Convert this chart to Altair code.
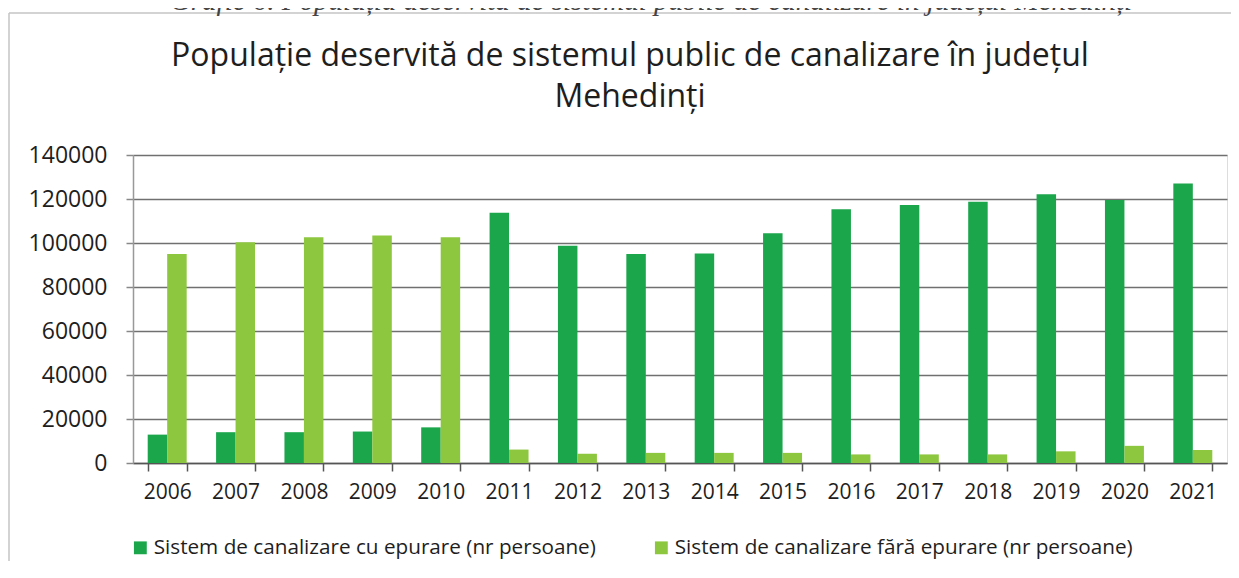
import altair as alt
import pandas as pd

years = [str(y) for y in range(2006, 2022)]
cu_epurare = [12900, 14000, 14000, 14300, 16200, 113700, 98800, 95000, 95200, 104400,
              115300, 117300, 118700, 122200, 119500, 127000]
fara_epurare = [95000, 100300, 102600, 103400, 102600, 6100, 4200, 4600, 4600, 4600,
                3900, 3900, 3900, 5300, 7800, 5900]
series_names = ["Sistem de canalizare cu epurare (nr persoane)",
                "Sistem de canalizare fără epurare (nr persoane)"]
series_colors = ["#1ba64b", "#8dc63f"]
y_ticks = [0, 20000, 40000, 60000, 80000, 100000, 120000, 140000]
title_lines = ["Populație deservită de sistemul public de canalizare în județul", "Mehedinți"]
caption = ["Grafic 6. Populația deservită de sistemul public de canalizare în județul Mehedinți"]

rows = []
for i, yr in enumerate(years):
    rows.append({"an": yr, "serie": series_names[0], "valoare": cu_epurare[i]})
    rows.append({"an": yr, "serie": series_names[1], "valoare": fara_epurare[i]})
df = pd.DataFrame(rows)

W, H = 1094, 308
PAD = {"left": 125, "top": 147, "right": 4, "bottom": 98}
FONT = "Open Sans"
TXT = "#1e1e1e"

bars = alt.Chart(df).mark_bar().encode(
    x=alt.X("an:N", sort=years,
            scale=alt.Scale(paddingInner=0.43, paddingOuter=0.215),
            axis=alt.Axis(title=None, labelAngle=0, labelFontSize=21, labelFont=FONT,
                          labelColor=TXT, labelPadding=10, tickSize=8, tickBand="extent",
                          tickColor="#555", tickWidth=1.5, domainColor="#555",
                          domainWidth=1.5, grid=False)),
    xOffset=alt.XOffset("serie:N", sort=series_names,
                        scale=alt.Scale(paddingInner=0, paddingOuter=0)),
    y=alt.Y("valoare:Q", scale=alt.Scale(domain=[0, 140000], nice=False),
            axis=alt.Axis(title=None, values=y_ticks, format="d", labelFontSize=23,
                          labelFont=FONT, labelColor=TXT, tickSize=7, labelPadding=19,
                          tickColor="#888", tickWidth=1.5, domainColor="#999",
                          domainWidth=1.5, gridColor="#707070", gridWidth=1.6)),
    color=alt.Color("serie:N", sort=series_names,
                    scale=alt.Scale(domain=series_names, range=series_colors),
                    legend=alt.Legend(orient="none", legendX=-3, legendY=382,
                                      direction="horizontal", title=None,
                                      symbolType="square", symbolSize=165,
                                      symbolStrokeWidth=0, labelFontSize=20.7,
                                      labelFont=FONT, labelColor=TXT, labelOffset=3,
                                      columnPadding=55, padding=0, labelLimit=0)),
)

one = pd.DataFrame({"k": [0]})
frame_left = alt.Chart(one).mark_rule(color="#c4c4c4", strokeWidth=1.5).encode(
    x=alt.value(-124), y=alt.value(-142), y2=alt.value(H + PAD["bottom"]))
frame_top = alt.Chart(one).mark_rule(color="#c4c4c4", strokeWidth=1.5).encode(
    x=alt.value(-124), x2=alt.value(W + PAD["right"]), y=alt.value(-142))

cap = alt.Chart(pd.DataFrame({"t": caption})).mark_text(
    font="Liberation Serif", fontStyle="italic", fontSize=29, color="#444",
    align="center", baseline="alphabetic").encode(
    text="t:N", x=alt.value(518), y=alt.value(-145))

title = alt.Chart(pd.DataFrame({"t": ["\n".join(title_lines)]})).mark_text(
    font=FONT, fontSize=32, color=TXT, align="center", baseline="alphabetic",
    lineBreak="\n", lineHeight=41).encode(
    text="t:N", x=alt.value(497), y=alt.value(-89))

chart = alt.layer(frame_left, frame_top, cap, title, bars).properties(
    width=W, height=H, padding=PAD,
    autosize=alt.AutoSizeParams(type="none"),
).configure_view(stroke=None).configure(background="white")

chart.save("out.html", embed_options={"renderer": "svg", "actions": False})
